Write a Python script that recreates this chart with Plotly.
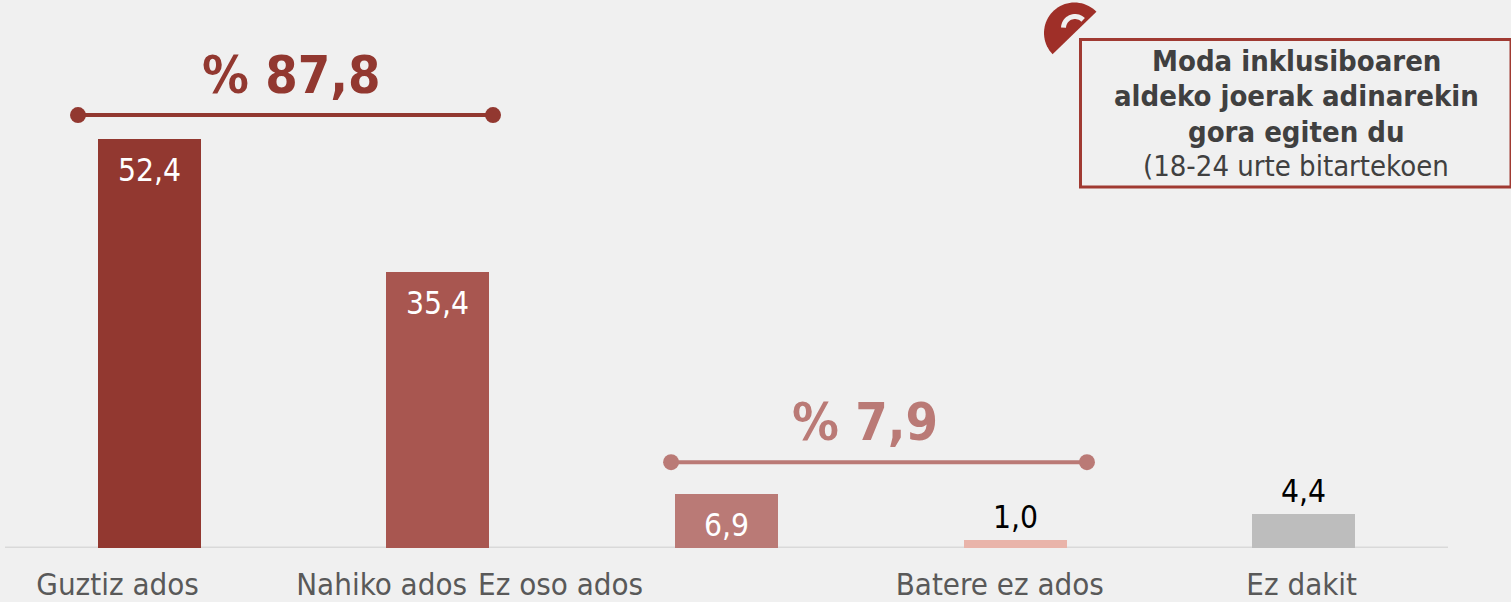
import numpy as np
import plotly.graph_objects as go

W, H = 1511, 602
ML, MR, MT, MB = 5, 63, 0, 54
FONT = "DejaVu Sans Condensed"

categories = ["Guztiz ados", "Nahiko ados", "Ez oso ados", "Batere ez ados", "Ez dakit"]
values = [52.4, 35.4, 6.9, 1.0, 4.4]
value_labels = ["52,4", "35,4", "6,9", "1,0", "4,4"]
bar_colors = ["#923830", "#A85650", "#BA7A76", "#E9B4AA", "#BDBDBD"]
label_colors = ["white", "white", "white", "black", "black"]
tick_positions = [-0.11, 0.805, 1.425, 2.947, 3.993]

group_top = "% 87,8"
group_low = "% 7,9"
top_span = [-0.247, 1.191]
top_level = [55.5, 55.5]
low_span = [1.808, 3.249]
low_level = [11.0, 11.0]
top_color = "#923830"
low_color = "#BA7A76"
note_bold = ["Moda inklusiboaren", "aldeko joerak adinarekin", "gora egiten du"]
note_plain = "(18-24 urte bitartekoen"

def px(x):
    return (x - ML) / (W - ML - MR)
def py(y):
    return 1 - (y - MT) / (H - MT - MB)
def path(pts):
    return "M " + " L ".join(f"{px(a):.5f},{py(b):.5f}" for a, b in pts) + " Z"

x_idx = list(range(len(categories)))
fig = go.Figure()
fig.add_trace(go.Bar(x=x_idx, y=values, width=0.357, marker=dict(color=bar_colors, line_width=0),
                     showlegend=False, hoverinfo="skip"))
for xs, ys, c in [(top_span, top_level, top_color), (low_span, low_level, low_color)]:
    fig.add_trace(go.Scatter(x=xs, y=ys, mode="lines+markers", line=dict(color=c, width=4),
                             marker=dict(color=c, size=16), showlegend=False, hoverinfo="skip"))

ann = []
for i, v in enumerate(values):
    inside = label_colors[i] == "white"
    ann.append(dict(x=i, y=v, yref="y", xref="x", text=value_labels[i], showarrow=False,
                    yanchor="top" if inside else "bottom", yshift=-11 if inside else 3,
                    font=dict(family=FONT, size=31.5, color=label_colors[i])))
ann.append(dict(x=np.mean(top_span), y=top_level[0], xref="x", yref="y", text=f"<b>{group_top}</b>",
                showarrow=False, yanchor="bottom", yshift=8, xshift=6, font=dict(family=FONT, size=52, color=top_color)))
ann.append(dict(x=np.mean(low_span), y=low_level[0], xref="x", yref="y", text=f"<b>{group_low}</b>",
                showarrow=False, yanchor="bottom", yshift=8, xshift=-14, font=dict(family=FONT, size=52, color=low_color)))
for yy, t in zip([61, 96, 132], note_bold):
    ann.append(dict(x=px(1296), y=py(yy), xref="paper", yref="paper", text=f"<b>{t}</b>", showarrow=False,
                    xanchor="center", yanchor="middle", font=dict(family=FONT, size=29, color="#404040")))
ann.append(dict(x=px(1296), y=py(166), xref="paper", yref="paper", text=note_plain, showarrow=False,
                xanchor="center", yanchor="middle", font=dict(family=FONT, size=29, color="#404040")))

th = np.deg2rad(np.linspace(44, 224, 40))
cx, cy, r = 1074.5, 33, 30.5
fan = [(cx + r*np.cos(t), cy - r*np.sin(t)) for t in th]
ths = np.deg2rad(np.linspace(45, 178, 20))
hook = [(1075 + 14*np.cos(t), 28 - 14*np.sin(t)) for t in ths] + [(1075 + 9*np.cos(t), 28 - 9*np.sin(t)) for t in ths[::-1]]

shapes = [
    dict(type="path", path=path(fan), xref="paper", yref="paper", fillcolor="#9F2F28", line_width=0, layer="below"),
    dict(type="path", path=path(hook), xref="paper", yref="paper", fillcolor="#F0F0F0", line_width=0, layer="below"),
    dict(type="rect", x0=px(1080.5), x1=px(1511), y0=py(187), y1=py(39.5), xref="paper", yref="paper",
         fillcolor="#F0F0F0", line=dict(color="#A03A32", width=3), layer="below"),
]

fig.update_layout(
    width=W, height=H, autosize=False, margin=dict(l=ML, r=MR, t=MT, b=MB),
    paper_bgcolor="#F0F0F0", plot_bgcolor="#F0F0F0", bargap=0, annotations=ann, shapes=shapes,
    font=dict(family=FONT),
    xaxis=dict(range=[-0.5, 4.5], automargin=False, tickmode="array", tickvals=tick_positions, ticktext=categories,
               tickangle=0, showgrid=False, zeroline=False, showline=False, ticks="outside", ticklen=9,
               tickcolor="rgba(0,0,0,0)", tickfont=dict(family=FONT, size=31, color="#595959")),
    yaxis=dict(range=[0, 548/7.8], visible=False, automargin=False),
)
fig.add_shape(type="line", xref="paper", yref="y", x0=0, x1=1, y0=0, y1=0,
              line=dict(color="#D9D9D9", width=3), layer="below")
fig.write_html("out.html", config=dict(displayModeBar=False),
               post_script="document.body.style.margin='0';document.body.style.overflow='hidden';document.body.style.background='#F0F0F0';")
